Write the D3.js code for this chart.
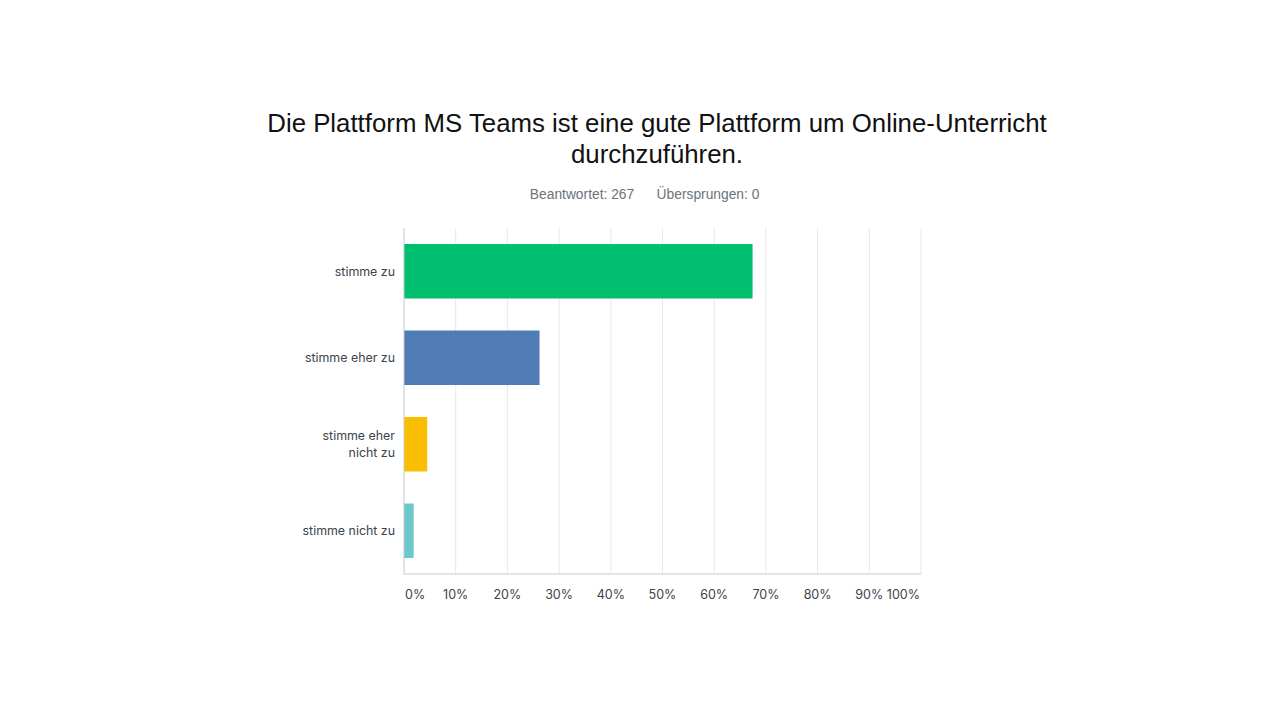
<!DOCTYPE html>
<html>
<head>
<meta charset="utf-8">
<script src="https://cdn.jsdelivr.net/npm/d3@7"></script>
<style>
	body { margin: 0; background: #fff; }
	svg { display: block; }
</style>
</head>
<body>
<div id="chart"></div>
<script>
// DATA
const titleLines = ["Die Plattform MS Teams ist eine gute Plattform um Online-Unterricht", "durchzuführen."];
const answered = "Beantwortet: 267";
const skipped = "Übersprungen: 0";
const categories = [["stimme zu"], ["stimme eher zu"], ["stimme eher", "nicht zu"], ["stimme nicht zu"]];
const values = [67.42, 26.22, 4.49, 1.87];
const colors = ["#00bf6f", "#507cb6", "#f9be00", "#6bc8cd"];
const ticks = [0, 10, 20, 30, 40, 50, 60, 70, 80, 90, 100];


// SVG DIMENSIONS
const width = 1280;
const height = 720;
const svg = d3.select("#chart")
	.append("svg")
	.attr("width", width)
	.attr("height", height);

const plot = { left: 404, right: 921, top: 228, bottom: 574 };


// HEADING
svg.append("g")
	.selectAll("text")
	.data(titleLines)
	.enter()
	.append("text")
		.attr("x", 657)
		.attr("y", (d, i) => 132 + i * 31)
		.attr("text-anchor", "middle")
		.attr("font-family", "'Liberation Sans', Arial, sans-serif")
		.attr("font-size", 25.8)
		.attr("fill", "#111")
		.text(d => d);

svg.append("text")
	.attr("x", 582)
	.attr("y", 199)
	.attr("text-anchor", "middle")
	.attr("font-family", "'Liberation Sans', Arial, sans-serif")
	.attr("font-size", 13.8)
	.attr("fill", "#6b737b")
	.text(answered);
svg.append("text")
	.attr("x", 708)
	.attr("y", 199)
	.attr("text-anchor", "middle")
	.attr("font-family", "'Liberation Sans', Arial, sans-serif")
	.attr("font-size", 13.8)
	.attr("fill", "#6b737b")
	.text(skipped);


// SCALES
const x = d3.scaleLinear()
	.domain([0, 100])
	.range([plot.left, plot.right]);
const y = d3.scaleBand()
	.domain(d3.range(categories.length))
	.range([plot.top, plot.bottom])
	.paddingInner(0.37)
	.paddingOuter(0.185);


// GRID
svg.append("g")
	.selectAll("line")
	.data(ticks.slice(1))
	.enter()
	.append("line")
		.attr("x1", d => x(d))
		.attr("x2", d => x(d))
		.attr("y1", plot.top)
		.attr("y2", plot.bottom)
		.attr("stroke", "#e8e8e8")
		.attr("stroke-width", 1);

// BARS
svg.append("g")
	.selectAll("rect")
	.data(values)
	.enter()
	.append("rect")
		.attr("x", x(0))
		.attr("y", (d, i) => y(i))
		.attr("width", d => x(d) - x(0))
		.attr("height", y.bandwidth())
		.attr("fill", (d, i) => colors[i]);

// AXES LINES
svg.append("line")
	.attr("x1", plot.left).attr("x2", plot.left)
	.attr("y1", plot.top).attr("y2", plot.bottom)
	.attr("stroke", "#c8c8c8");
svg.append("line")
	.attr("x1", plot.left).attr("x2", plot.right)
	.attr("y1", plot.bottom).attr("y2", plot.bottom)
	.attr("stroke", "#c8c8c8");

// TICK LABELS
svg.append("g")
	.selectAll("text")
	.data(ticks)
	.enter()
	.append("text")
		.attr("x", (d, i) => i === 0 ? x(d) + 1 : i === ticks.length - 1 ? x(d) - 1 : x(d))
		.attr("y", 599)
		.attr("text-anchor", (d, i) => i === 0 ? "start" : i === ticks.length - 1 ? "end" : "middle")
		.attr("font-family", "Inter, 'Open Sans', sans-serif")
		.attr("font-size", 12.5)
		.attr("fill", "#3b434b")
		.text(d => d + "%");

// CATEGORY LABELS
const catLabels = svg.append("g")
	.selectAll("text")
	.data(categories)
	.enter()
	.append("text")
		.attr("text-anchor", "end")
		.attr("font-family", "Inter, 'Open Sans', sans-serif")
		.attr("font-size", 12.4)
		.attr("fill", "#3b434b");
catLabels.each(function(lines, i) {
	const cy = y(i) + y.bandwidth() / 2;
	const lh = 17;
	d3.select(this)
		.selectAll("tspan")
		.data(lines)
		.enter()
		.append("tspan")
			.attr("x", 395)
			.attr("y", (d, j) => cy + 4.5 + (j - (lines.length - 1) / 2) * lh)
			.text(d => d);
});
</script>
</body>
</html>
